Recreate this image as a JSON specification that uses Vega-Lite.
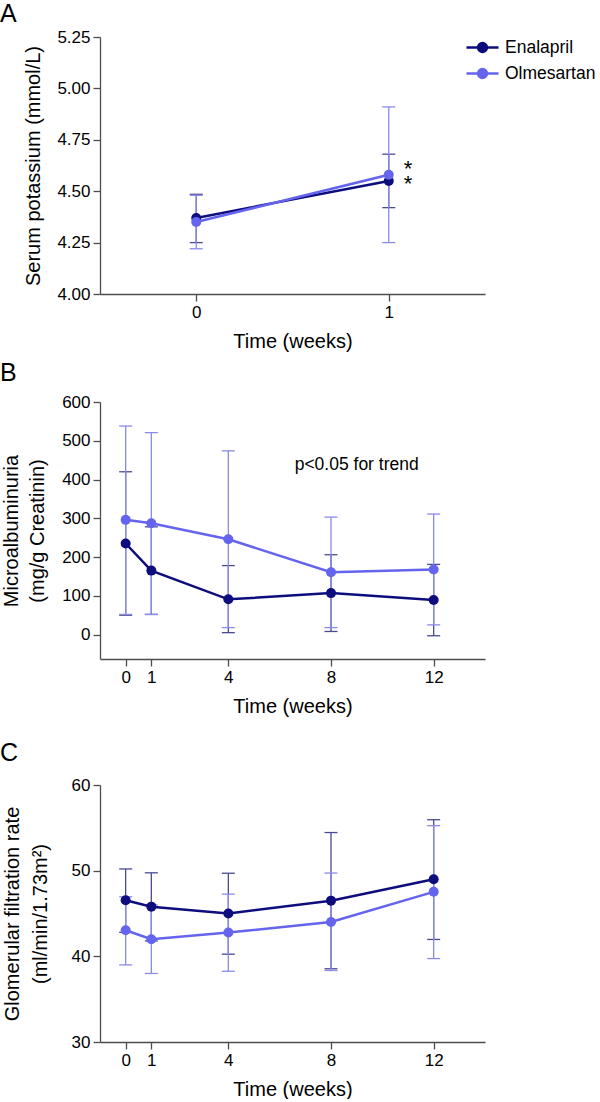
{
  "$schema": "https://vega.github.io/schema/vega-lite/v6.json",
  "padding": {"left": 0, "top": 2, "right": 0, "bottom": 0},
  "datasets": {
    "potassium": [
      {"week": 0, "drug": "Enalapril", "mean": 4.37, "lo": 4.25, "hi": 4.485},
      {"week": 1, "drug": "Enalapril", "mean": 4.55, "lo": 4.42, "hi": 4.68},
      {"week": 0, "drug": "Olmesartan", "mean": 4.35, "lo": 4.22, "hi": 4.48},
      {"week": 1, "drug": "Olmesartan", "mean": 4.58, "lo": 4.25, "hi": 4.91}
    ],
    "albumin": [
      {"week": 0, "drug": "Enalapril", "mean": 235, "lo": 50, "hi": 420},
      {"week": 1, "drug": "Enalapril", "mean": 165, "lo": 52, "hi": 278},
      {"week": 4, "drug": "Enalapril", "mean": 91, "lo": 5, "hi": 178},
      {"week": 8, "drug": "Enalapril", "mean": 107, "lo": 8, "hi": 206},
      {"week": 12, "drug": "Enalapril", "mean": 89, "lo": -3, "hi": 181},
      {"week": 0, "drug": "Olmesartan", "mean": 296, "lo": 52, "hi": 538},
      {"week": 1, "drug": "Olmesartan", "mean": 287, "lo": 52, "hi": 521},
      {"week": 4, "drug": "Olmesartan", "mean": 246, "lo": 18, "hi": 474},
      {"week": 8, "drug": "Olmesartan", "mean": 161, "lo": 18, "hi": 303},
      {"week": 12, "drug": "Olmesartan", "mean": 168, "lo": 25, "hi": 311}
    ],
    "gfr": [
      {"week": 0, "drug": "Enalapril", "mean": 46.55, "lo": 42.8, "hi": 50.2},
      {"week": 1, "drug": "Enalapril", "mean": 45.8, "lo": 41.8, "hi": 49.75},
      {"week": 4, "drug": "Enalapril", "mean": 45.0, "lo": 40.25, "hi": 49.7},
      {"week": 8, "drug": "Enalapril", "mean": 46.5, "lo": 38.55, "hi": 54.45},
      {"week": 12, "drug": "Enalapril", "mean": 49.0, "lo": 41.97, "hi": 55.95},
      {"week": 0, "drug": "Olmesartan", "mean": 43.05, "lo": 39.0, "hi": 46.95},
      {"week": 1, "drug": "Olmesartan", "mean": 42.0, "lo": 38.0, "hi": 46.0},
      {"week": 4, "drug": "Olmesartan", "mean": 42.78, "lo": 38.26, "hi": 47.26},
      {"week": 8, "drug": "Olmesartan", "mean": 44.0, "lo": 38.35, "hi": 49.72},
      {"week": 12, "drug": "Olmesartan", "mean": 47.53, "lo": 39.74, "hi": 55.25}
    ],
    "stars": [
      {"week": 1.1, "v": 4.574, "t": ["*", "*"]}
    ],
    "trend": [
      {"week": 9, "v": 438, "t": "p<0.05 for trend"}
    ]
  },
  "spacing": 10,
  "vconcat": [
    {
      "width": 385,
      "height": 257,
      "title": {"text": "A", "dx": -100, "offset": -19, "baseline": "alphabetic"},
      "data": {"name": "potassium"},
      "encoding": {
        "x": {"field": "week", "type": "quantitative",
              "scale": {"domain": [-0.5, 1.5], "nice": false, "zero": false},
              "axis": {"values": [0, 1], "title": "Time (weeks)", "titleY": 47, "titleBaseline": "middle"}}
      },
      "layer": [
        {"transform": [{"filter": "datum.drug === 'Enalapril'"}],
         "mark": {"type": "rule", "color": "#4a4a92", "strokeWidth": 1.3},
         "encoding": {"y": {"field": "lo", "type": "quantitative", "scale": {"domain": [4, 5.25], "nice": false, "zero": false},
                 "axis": {"values": [4, 4.25, 4.5, 4.75, 5, 5.25], "format": ".2f", "title": "Serum potassium (mmol/L)", "titleX": -67, "titleY": 128.5, "titleAngle": -90, "titleAlign": "center", "titleBaseline": "middle"}}, "y2": {"field": "hi"}}},
        {"transform": [{"filter": "datum.drug === 'Enalapril'"}],
         "mark": {"type": "tick", "orient": "horizontal", "size": 13, "thickness": 1.3, "color": "#4a4a92", "opacity": 1},
         "encoding": {"y": {"field": "lo", "type": "quantitative", "scale": {"domain": [4, 5.25], "nice": false, "zero": false},
                 "axis": {"values": [4, 4.25, 4.5, 4.75, 5, 5.25], "format": ".2f", "title": "Serum potassium (mmol/L)", "titleX": -67, "titleY": 128.5, "titleAngle": -90, "titleAlign": "center", "titleBaseline": "middle"}}}},
        {"transform": [{"filter": "datum.drug === 'Enalapril'"}],
         "mark": {"type": "tick", "orient": "horizontal", "size": 13, "thickness": 1.3, "color": "#4a4a92", "opacity": 1},
         "encoding": {"y": {"field": "hi", "type": "quantitative", "scale": {"domain": [4, 5.25], "nice": false, "zero": false},
                 "axis": {"values": [4, 4.25, 4.5, 4.75, 5, 5.25], "format": ".2f", "title": "Serum potassium (mmol/L)", "titleX": -67, "titleY": 128.5, "titleAngle": -90, "titleAlign": "center", "titleBaseline": "middle"}}}},
        {"transform": [{"filter": "datum.drug === 'Olmesartan'"}],
         "mark": {"type": "rule", "color": "#8a8ae8", "strokeWidth": 1.3},
         "encoding": {"y": {"field": "lo", "type": "quantitative", "scale": {"domain": [4, 5.25], "nice": false, "zero": false},
                 "axis": {"values": [4, 4.25, 4.5, 4.75, 5, 5.25], "format": ".2f", "title": "Serum potassium (mmol/L)", "titleX": -67, "titleY": 128.5, "titleAngle": -90, "titleAlign": "center", "titleBaseline": "middle"}}, "y2": {"field": "hi"}}},
        {"transform": [{"filter": "datum.drug === 'Olmesartan'"}],
         "mark": {"type": "tick", "orient": "horizontal", "size": 13, "thickness": 1.3, "color": "#8a8ae8", "opacity": 1},
         "encoding": {"y": {"field": "lo", "type": "quantitative", "scale": {"domain": [4, 5.25], "nice": false, "zero": false},
                 "axis": {"values": [4, 4.25, 4.5, 4.75, 5, 5.25], "format": ".2f", "title": "Serum potassium (mmol/L)", "titleX": -67, "titleY": 128.5, "titleAngle": -90, "titleAlign": "center", "titleBaseline": "middle"}}}},
        {"transform": [{"filter": "datum.drug === 'Olmesartan'"}],
         "mark": {"type": "tick", "orient": "horizontal", "size": 13, "thickness": 1.3, "color": "#8a8ae8", "opacity": 1},
         "encoding": {"y": {"field": "hi", "type": "quantitative", "scale": {"domain": [4, 5.25], "nice": false, "zero": false},
                 "axis": {"values": [4, 4.25, 4.5, 4.75, 5, 5.25], "format": ".2f", "title": "Serum potassium (mmol/L)", "titleX": -67, "titleY": 128.5, "titleAngle": -90, "titleAlign": "center", "titleBaseline": "middle"}}}},
        {"mark": {"type": "line", "strokeWidth": 2.5},
         "encoding": {
           "y": {"field": "mean", "type": "quantitative", "scale": {"domain": [4, 5.25], "nice": false, "zero": false},
                 "axis": {"values": [4, 4.25, 4.5, 4.75, 5, 5.25], "format": ".2f", "title": "Serum potassium (mmol/L)", "titleX": -67, "titleY": 128.5, "titleAngle": -90, "titleAlign": "center", "titleBaseline": "middle"}},
           "color": {"field": "drug", "type": "nominal",
                     "scale": {"domain": ["Enalapril", "Olmesartan"], "range": ["#0d0d7d", "#6464ee"]},
                     "legend": {"title": null, "orient": "none", "legendX": 373, "legendY": 1, "padding": 0,
                                "symbolType": "M-2,0H2M-0.55,0A0.55,0.55 0 1,1 0.55,0A0.55,0.55 0 1,1 -0.55,0Z",
                                "symbolSize": 256, "symbolStrokeWidth": 2.5, "symbolOpacity": 1,
                                "labelFontSize": 17.5, "labelFont": "Liberation Sans", "labelColor": "#000", "labelOffset": 13, "rowPadding": 7,
                                "encode": {"symbols": {"update": {"stroke": {"scale": "color", "field": "value"}, "fill": {"scale": "color", "field": "value"}}}}}}
         }},
        {"mark": {"type": "point", "filled": true, "size": 100, "opacity": 1},
         "encoding": {
           "y": {"field": "mean", "type": "quantitative", "scale": {"domain": [4, 5.25], "nice": false, "zero": false},
                 "axis": {"values": [4, 4.25, 4.5, 4.75, 5, 5.25], "format": ".2f", "title": "Serum potassium (mmol/L)", "titleX": -67, "titleY": 128.5, "titleAngle": -90, "titleAlign": "center", "titleBaseline": "middle"}},
           "color": {"field": "drug", "type": "nominal", "legend": null}
         }},
        {"data": {"name": "stars"},
         "mark": {"type": "text", "fontSize": 22, "baseline": "alphabetic", "align": "center", "color": "#000", "lineHeight": 15.5},
         "encoding": {
           "y": {"field": "v", "type": "quantitative", "scale": {"domain": [4, 5.25], "nice": false, "zero": false},
                 "axis": {"values": [4, 4.25, 4.5, 4.75, 5, 5.25], "format": ".2f", "title": "Serum potassium (mmol/L)", "titleX": -67, "titleY": 128.5, "titleAngle": -90, "titleAlign": "center", "titleBaseline": "middle"}},
           "text": {"field": "t"}
         }}
      ]
    },
    {
      "spacing": 25,
      "vconcat": [
        {
          "width": 385,
          "height": 257,
          "title": {"text": "B", "dx": -100, "offset": -13, "baseline": "alphabetic"},
          "data": {"name": "albumin"},
          "encoding": {
            "x": {"field": "week", "type": "quantitative",
                  "scale": {"domain": [-1, 14], "nice": false, "zero": false},
                  "axis": {"values": [0, 1, 4, 8, 12], "title": "Time (weeks)", "titleY": 47, "titleBaseline": "middle"}}
          },
          "layer": [
            {"transform": [{"filter": "datum.drug === 'Enalapril'"}],
             "mark": {"type": "rule", "color": "#4a4a92", "strokeWidth": 1.3},
             "encoding": {"y": {"field": "lo", "type": "quantitative", "scale": {"domain": [-63, 600], "nice": false, "zero": false},
                     "axis": {"values": [0, 100, 200, 300, 400, 500, 600], "title": ["Microalbuminuria", "(mg/g Creatinin)"], "titleX": -89, "titleY": 128.5, "titleAngle": -90, "titleAlign": "center", "titleBaseline": "middle", "titleLineHeight": 26}}, "y2": {"field": "hi"}}},
            {"transform": [{"filter": "datum.drug === 'Enalapril'"}],
             "mark": {"type": "tick", "orient": "horizontal", "size": 13, "thickness": 1.3, "color": "#4a4a92", "opacity": 1},
             "encoding": {"y": {"field": "lo", "type": "quantitative", "scale": {"domain": [-63, 600], "nice": false, "zero": false},
                     "axis": {"values": [0, 100, 200, 300, 400, 500, 600], "title": ["Microalbuminuria", "(mg/g Creatinin)"], "titleX": -89, "titleY": 128.5, "titleAngle": -90, "titleAlign": "center", "titleBaseline": "middle", "titleLineHeight": 26}}}},
            {"transform": [{"filter": "datum.drug === 'Enalapril'"}],
             "mark": {"type": "tick", "orient": "horizontal", "size": 13, "thickness": 1.3, "color": "#4a4a92", "opacity": 1},
             "encoding": {"y": {"field": "hi", "type": "quantitative", "scale": {"domain": [-63, 600], "nice": false, "zero": false},
                     "axis": {"values": [0, 100, 200, 300, 400, 500, 600], "title": ["Microalbuminuria", "(mg/g Creatinin)"], "titleX": -89, "titleY": 128.5, "titleAngle": -90, "titleAlign": "center", "titleBaseline": "middle", "titleLineHeight": 26}}}},
            {"transform": [{"filter": "datum.drug === 'Olmesartan'"}],
             "mark": {"type": "rule", "color": "#8a8ae8", "strokeWidth": 1.3},
             "encoding": {"y": {"field": "lo", "type": "quantitative", "scale": {"domain": [-63, 600], "nice": false, "zero": false},
                     "axis": {"values": [0, 100, 200, 300, 400, 500, 600], "title": ["Microalbuminuria", "(mg/g Creatinin)"], "titleX": -89, "titleY": 128.5, "titleAngle": -90, "titleAlign": "center", "titleBaseline": "middle", "titleLineHeight": 26}}, "y2": {"field": "hi"}}},
            {"transform": [{"filter": "datum.drug === 'Olmesartan'"}],
             "mark": {"type": "tick", "orient": "horizontal", "size": 13, "thickness": 1.3, "color": "#8a8ae8", "opacity": 1},
             "encoding": {"y": {"field": "lo", "type": "quantitative", "scale": {"domain": [-63, 600], "nice": false, "zero": false},
                     "axis": {"values": [0, 100, 200, 300, 400, 500, 600], "title": ["Microalbuminuria", "(mg/g Creatinin)"], "titleX": -89, "titleY": 128.5, "titleAngle": -90, "titleAlign": "center", "titleBaseline": "middle", "titleLineHeight": 26}}}},
            {"transform": [{"filter": "datum.drug === 'Olmesartan'"}],
             "mark": {"type": "tick", "orient": "horizontal", "size": 13, "thickness": 1.3, "color": "#8a8ae8", "opacity": 1},
             "encoding": {"y": {"field": "hi", "type": "quantitative", "scale": {"domain": [-63, 600], "nice": false, "zero": false},
                     "axis": {"values": [0, 100, 200, 300, 400, 500, 600], "title": ["Microalbuminuria", "(mg/g Creatinin)"], "titleX": -89, "titleY": 128.5, "titleAngle": -90, "titleAlign": "center", "titleBaseline": "middle", "titleLineHeight": 26}}}},
            {"mark": {"type": "line", "strokeWidth": 2.5},
             "encoding": {
               "y": {"field": "mean", "type": "quantitative", "scale": {"domain": [-63, 600], "nice": false, "zero": false},
                     "axis": {"values": [0, 100, 200, 300, 400, 500, 600], "title": ["Microalbuminuria", "(mg/g Creatinin)"], "titleX": -89, "titleY": 128.5, "titleAngle": -90, "titleAlign": "center", "titleBaseline": "middle", "titleLineHeight": 26}},
               "color": {"field": "drug", "type": "nominal", "legend": null}
             }},
            {"mark": {"type": "point", "filled": true, "size": 100, "opacity": 1},
             "encoding": {
               "y": {"field": "mean", "type": "quantitative", "scale": {"domain": [-63, 600], "nice": false, "zero": false},
                     "axis": {"values": [0, 100, 200, 300, 400, 500, 600], "title": ["Microalbuminuria", "(mg/g Creatinin)"], "titleX": -89, "titleY": 128.5, "titleAngle": -90, "titleAlign": "center", "titleBaseline": "middle", "titleLineHeight": 26}},
               "color": {"field": "drug", "type": "nominal", "legend": null}
             }},
            {"data": {"name": "trend"},
             "mark": {"type": "text", "fontSize": 17.5, "baseline": "middle", "align": "center", "color": "#000"},
             "encoding": {
               "y": {"field": "v", "type": "quantitative", "scale": {"domain": [-63, 600], "nice": false, "zero": false},
                     "axis": {"values": [0, 100, 200, 300, 400, 500, 600], "title": ["Microalbuminuria", "(mg/g Creatinin)"], "titleX": -89, "titleY": 128.5, "titleAngle": -90, "titleAlign": "center", "titleBaseline": "middle", "titleLineHeight": 26}},
               "text": {"field": "t"}
             }}
          ]
        },
        {
          "width": 385,
          "height": 257,
          "title": {"text": "C", "dx": -100, "offset": -10, "baseline": "alphabetic"},
          "data": {"name": "gfr"},
          "encoding": {
            "x": {"field": "week", "type": "quantitative",
                  "scale": {"domain": [-1, 14], "nice": false, "zero": false},
                  "axis": {"values": [0, 1, 4, 8, 12], "title": "Time (weeks)", "titleY": 47, "titleBaseline": "middle"}}
          },
          "layer": [
            {"transform": [{"filter": "datum.drug === 'Enalapril'"}],
             "mark": {"type": "rule", "color": "#4a4a92", "strokeWidth": 1.3},
             "encoding": {"y": {"field": "lo", "type": "quantitative", "scale": {"domain": [30, 60], "nice": false, "zero": false},
                     "axis": {"values": [30, 40, 50, 60], "title": ["Glomerular filtration rate", "(ml/min/1.73m²)"], "titleX": -88, "titleY": 128.5, "titleAngle": -90, "titleAlign": "center", "titleBaseline": "middle", "titleLineHeight": 28}}, "y2": {"field": "hi"}}},
            {"transform": [{"filter": "datum.drug === 'Enalapril'"}],
             "mark": {"type": "tick", "orient": "horizontal", "size": 13, "thickness": 1.3, "color": "#4a4a92", "opacity": 1},
             "encoding": {"y": {"field": "lo", "type": "quantitative", "scale": {"domain": [30, 60], "nice": false, "zero": false},
                     "axis": {"values": [30, 40, 50, 60], "title": ["Glomerular filtration rate", "(ml/min/1.73m²)"], "titleX": -88, "titleY": 128.5, "titleAngle": -90, "titleAlign": "center", "titleBaseline": "middle", "titleLineHeight": 28}}}},
            {"transform": [{"filter": "datum.drug === 'Enalapril'"}],
             "mark": {"type": "tick", "orient": "horizontal", "size": 13, "thickness": 1.3, "color": "#4a4a92", "opacity": 1},
             "encoding": {"y": {"field": "hi", "type": "quantitative", "scale": {"domain": [30, 60], "nice": false, "zero": false},
                     "axis": {"values": [30, 40, 50, 60], "title": ["Glomerular filtration rate", "(ml/min/1.73m²)"], "titleX": -88, "titleY": 128.5, "titleAngle": -90, "titleAlign": "center", "titleBaseline": "middle", "titleLineHeight": 28}}}},
            {"transform": [{"filter": "datum.drug === 'Olmesartan'"}],
             "mark": {"type": "rule", "color": "#8a8ae8", "strokeWidth": 1.3},
             "encoding": {"y": {"field": "lo", "type": "quantitative", "scale": {"domain": [30, 60], "nice": false, "zero": false},
                     "axis": {"values": [30, 40, 50, 60], "title": ["Glomerular filtration rate", "(ml/min/1.73m²)"], "titleX": -88, "titleY": 128.5, "titleAngle": -90, "titleAlign": "center", "titleBaseline": "middle", "titleLineHeight": 28}}, "y2": {"field": "hi"}}},
            {"transform": [{"filter": "datum.drug === 'Olmesartan'"}],
             "mark": {"type": "tick", "orient": "horizontal", "size": 13, "thickness": 1.3, "color": "#8a8ae8", "opacity": 1},
             "encoding": {"y": {"field": "lo", "type": "quantitative", "scale": {"domain": [30, 60], "nice": false, "zero": false},
                     "axis": {"values": [30, 40, 50, 60], "title": ["Glomerular filtration rate", "(ml/min/1.73m²)"], "titleX": -88, "titleY": 128.5, "titleAngle": -90, "titleAlign": "center", "titleBaseline": "middle", "titleLineHeight": 28}}}},
            {"transform": [{"filter": "datum.drug === 'Olmesartan'"}],
             "mark": {"type": "tick", "orient": "horizontal", "size": 13, "thickness": 1.3, "color": "#8a8ae8", "opacity": 1},
             "encoding": {"y": {"field": "hi", "type": "quantitative", "scale": {"domain": [30, 60], "nice": false, "zero": false},
                     "axis": {"values": [30, 40, 50, 60], "title": ["Glomerular filtration rate", "(ml/min/1.73m²)"], "titleX": -88, "titleY": 128.5, "titleAngle": -90, "titleAlign": "center", "titleBaseline": "middle", "titleLineHeight": 28}}}},
            {"mark": {"type": "line", "strokeWidth": 2.5},
             "encoding": {
               "y": {"field": "mean", "type": "quantitative", "scale": {"domain": [30, 60], "nice": false, "zero": false},
                     "axis": {"values": [30, 40, 50, 60], "title": ["Glomerular filtration rate", "(ml/min/1.73m²)"], "titleX": -88, "titleY": 128.5, "titleAngle": -90, "titleAlign": "center", "titleBaseline": "middle", "titleLineHeight": 28}},
               "color": {"field": "drug", "type": "nominal", "legend": null}
             }},
            {"mark": {"type": "point", "filled": true, "size": 100, "opacity": 1},
             "encoding": {
               "y": {"field": "mean", "type": "quantitative", "scale": {"domain": [30, 60], "nice": false, "zero": false},
                     "axis": {"values": [30, 40, 50, 60], "title": ["Glomerular filtration rate", "(ml/min/1.73m²)"], "titleX": -88, "titleY": 128.5, "titleAngle": -90, "titleAlign": "center", "titleBaseline": "middle", "titleLineHeight": 28}},
               "color": {"field": "drug", "type": "nominal", "legend": null}
             }}
          ]
        }
      ]
    }
  ],
  "config": {
    "font": "Liberation Sans",
    "view": {"stroke": null},
    "axis": {"grid": false, "domainColor": "#4d4d4d", "domainWidth": 1.3, "tickColor": "#4d4d4d", "tickWidth": 1.3, "tickSize": 7,
             "labelFontSize": 17, "labelColor": "#000", "labelPadding": 3, "labelFont": "Liberation Sans",
             "labelFlush": false, "labelOverlap": false,
             "titleFontSize": 20, "titleFontWeight": "normal", "titleColor": "#000", "titleFont": "Liberation Sans"},
    "title": {"fontSize": 25, "fontWeight": "normal", "anchor": "start", "frame": "group", "color": "#000", "font": "Liberation Sans"}
  }
}
